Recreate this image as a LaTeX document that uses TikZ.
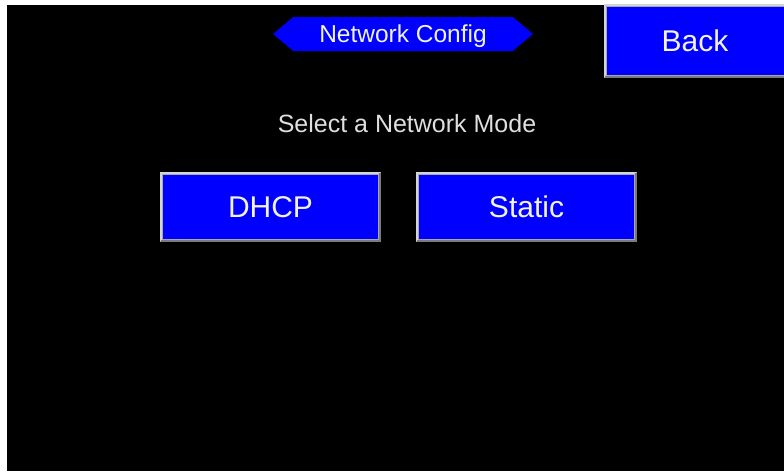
\documentclass[tikz,border=0pt]{standalone}
\usepackage{fontspec}
\setmainfont{Liberation Sans}
\usetikzlibrary{shapes.symbols}
\definecolor{panelblue}{HTML}{0000FF}
\definecolor{bevellight}{HTML}{D4D4D4}
\definecolor{beveldark}{HTML}{7A7A7A}
\definecolor{bevelmid}{HTML}{A8A8A8}
\definecolor{labeltext}{HTML}{F2F2F2}
\tikzset{
  btn/.style={rectangle, fill=panelblue, draw=bevelmid, line width=3pt,
    inner sep=0pt, outer sep=0pt, text=labeltext, text depth=0pt,
    font=\fontsize{30}{34}\selectfont},
  bevelhi/.style={draw=bevellight, line width=2pt},
  bevello/.style={draw=beveldark, line width=2pt},
}
\newcommand{\bevel}[1]{%
  \path[bevelhi] ([xshift=-0.5pt,yshift=-0.5pt]#1.south west) -- ([xshift=-0.5pt,yshift=0.5pt]#1.north west) -- ([xshift=0.5pt,yshift=0.5pt]#1.north east);
  \path[bevello] ([xshift=0.5pt,yshift=0.5pt]#1.north east) -- ([xshift=0.5pt,yshift=-0.5pt]#1.south east) -- ([xshift=-0.5pt,yshift=-0.5pt]#1.south west);
}
\begin{document}
\begin{tikzpicture}[x=1pt,y=-1pt]
  % canvas: thin white margin on the left and top, black screen
  \useasboundingbox (0,0) rectangle (784,471);
  \fill[white] (0,0) rectangle (784,471);
  \fill[black] (7,5) rectangle (784,471);

  % title banner
  \node[shape=signal, signal to=west and east, signal pointer angle=80,
        fill=panelblue, inner sep=0pt, outer sep=0pt,
        minimum width=260pt, minimum height=34pt, text depth=0pt,
        text=labeltext, font=\fontsize{24.5}{28}\selectfont]
    (title) at (403,34) {Network Config};

  % back button
  \node[btn, minimum width=180pt, minimum height=71pt] (back) at (695,41) {Back};
  \bevel{back}

  % prompt
  \node[text=labeltext!92!black, font=\fontsize{25}{29}\selectfont, anchor=base]
    (prompt) at (407,132) {Select a Network Mode};

  % mode buttons
  \node[btn, minimum width=218pt, minimum height=67pt] (dhcp) at (270.5,207) {DHCP};
  \bevel{dhcp}
  \node[btn, minimum width=218pt, minimum height=67pt] (static) at (526.5,207) {Static};
  \bevel{static}
\end{tikzpicture}
\end{document}
